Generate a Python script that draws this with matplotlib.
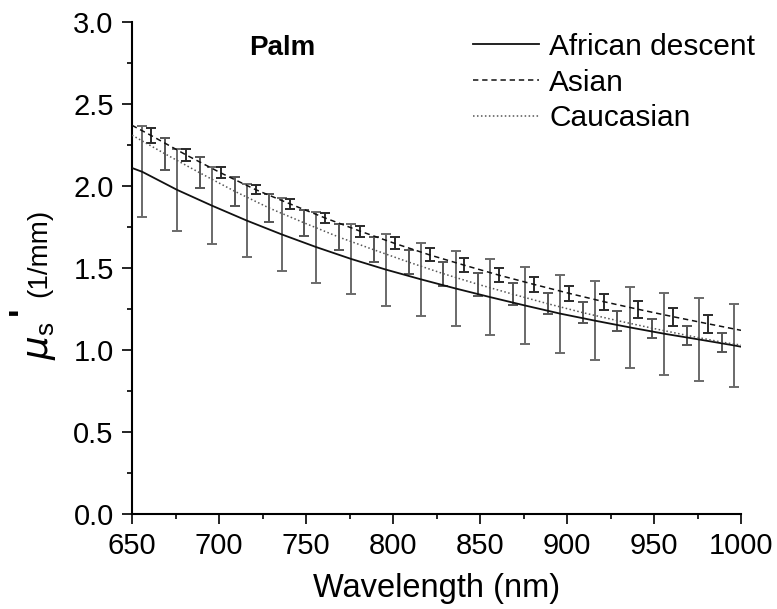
import matplotlib
matplotlib.use("Agg")
import matplotlib.pyplot as plt
from matplotlib.ticker import MultipleLocator

plt.rcParams['font.family'] = ['Liberation Sans', 'DejaVu Sans']
plt.rcParams['mathtext.fontset'] = 'custom'
plt.rcParams['mathtext.rm'] = 'Liberation Sans'
plt.rcParams['mathtext.it'] = 'DejaVu Sans:italic'

# ---- data ----
african_nm = [656, 676, 696, 716, 736, 756, 776, 796, 816, 836, 856, 876, 896, 916, 936, 956, 976, 996]
african_mu = [2.086, 1.976, 1.880, 1.789, 1.705, 1.627, 1.555, 1.490, 1.431, 1.375, 1.322, 1.271,
              1.222, 1.179, 1.138, 1.099, 1.064, 1.028]
african_err = [0.277, 0.248, 0.234, 0.224, 0.221, 0.217, 0.215, 0.220, 0.224, 0.229, 0.232, 0.236,
               0.238, 0.242, 0.246, 0.249, 0.251, 0.254]
african_start, african_end = 2.11, 1.02

asian_nm = [661, 681, 701, 721, 741, 761, 781, 801, 821, 841, 861, 881, 901, 921, 941, 961, 981]
asian_mu = [2.308, 2.190, 2.080, 1.978, 1.890, 1.805, 1.725, 1.650, 1.580, 1.517, 1.456, 1.400,
            1.346, 1.295, 1.248, 1.203, 1.160]
asian_err = [0.044, 0.036, 0.034, 0.029, 0.030, 0.029, 0.034, 0.036, 0.039, 0.043, 0.043, 0.046,
             0.046, 0.049, 0.051, 0.055, 0.055]
asian_start, asian_end = 2.37, 1.12

cauc_nm = [669, 689, 709, 729, 749, 769, 789, 809, 829, 849, 869, 889, 909, 929, 949, 969, 989]
cauc_mu = [2.196, 2.080, 1.968, 1.865, 1.775, 1.688, 1.611, 1.536, 1.465, 1.400, 1.340, 1.282,
           1.228, 1.179, 1.133, 1.089, 1.048]
cauc_err = [0.099, 0.094, 0.089, 0.086, 0.080, 0.080, 0.076, 0.074, 0.072, 0.069, 0.067, 0.064,
            0.063, 0.061, 0.058, 0.057, 0.058]
cauc_start, cauc_end = 2.31, 1.03

x_start, x_end = 650, 1000
labels = ['African descent', 'Asian', 'Caucasian']

# ---- figure ----
fig = plt.figure(figsize=(7.77, 6.09), dpi=100)
ax = fig.add_axes([132/777, 95/609, (741-132)/777, (587-95)/609])

series = [
    (african_nm, african_mu, african_err, african_start, african_end, '-', 1.3, '#111111', '#6a6a6a'),
    (asian_nm, asian_mu, asian_err, asian_start, asian_end, (0, (3.5, 2.5)), 1.1, '#111111', '#2a2a2a'),
    (cauc_nm, cauc_mu, cauc_err, cauc_start, cauc_end, (0, (1, 1.6)), 1.1, '#555555', '#555555'),
]
for (nm, mu, err, s0, s1, ls, lw, lc, ec), lab in zip(series, labels):
    ax.plot([x_start] + nm + [x_end], [s0] + mu + [s1], linestyle=ls, color=lc, lw=lw,
            label=lab, zorder=3)
    ax.errorbar(nm, mu, yerr=err, fmt='none', ecolor=ec, elinewidth=1.4, capsize=3.6,
                capthick=1.4, zorder=2)

ax.set_xlim(650, 1000)
ax.set_ylim(0, 3.0)
ax.xaxis.set_major_locator(MultipleLocator(50))
ax.xaxis.set_minor_locator(MultipleLocator(25))
ax.yaxis.set_major_locator(MultipleLocator(0.5))
ax.yaxis.set_minor_locator(MultipleLocator(0.25))
ax.yaxis.set_major_formatter(matplotlib.ticker.FormatStrFormatter('%.1f'))

for side in ['top', 'right']:
    ax.spines[side].set_visible(False)
for side in ['left', 'bottom']:
    ax.spines[side].set_linewidth(1.5)
ax.tick_params(which='major', direction='out', length=7.2, width=1.2, labelsize=21)
ax.tick_params(axis='x', which='major', pad=6)
ax.tick_params(axis='y', which='major', pad=6)
ax.tick_params(which='minor', direction='out', length=3.6, width=1.2)

ax.set_xlabel('Wavelength (nm)', fontsize=23.5, labelpad=9)

ax.text(0.246, 0.947, 'Palm', transform=ax.transAxes, fontsize=20, fontweight='bold',
        ha='center', va='center')

leg = ax.legend(loc='upper left', bbox_to_anchor=(0.56, 0.978), frameon=False, fontsize=21.5,
                handlelength=2.2, handletextpad=0.35, labelspacing=0.26, borderpad=0,
                borderaxespad=0)

# y label pieces
fig.text(0.052, 0.44, r'$\mu_{\mathrm{s}}$', fontsize=27, rotation=90, ha='center', va='center')
fig.text(0.031, 0.49, "'", fontsize=26, fontweight='bold', rotation=90, ha='center', va='center')
fig.text(0.051, 0.585, '(1/mm)', fontsize=20, rotation=90, ha='center', va='center')

fig.savefig('out.png', dpi=100)
